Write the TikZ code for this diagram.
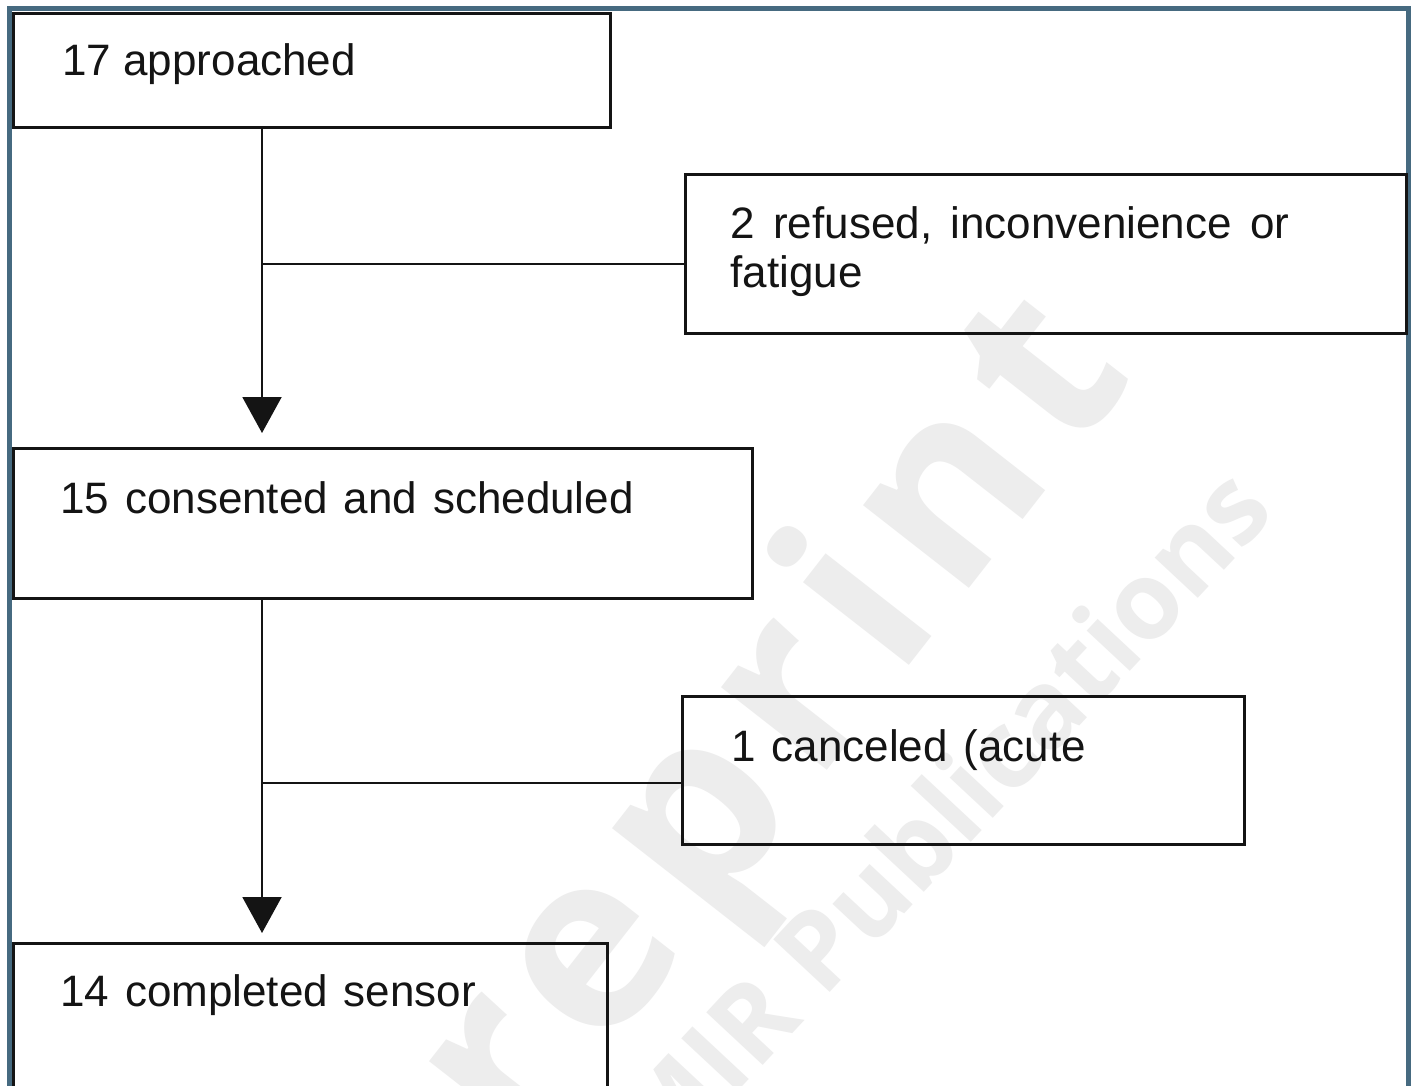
\documentclass[tikz,border=0pt]{standalone}
\usepackage{fontspec}
\setmainfont{Liberation Sans}
\newfontfamily\markfont{Open Sans}[LetterSpace=9]
\newfontfamily\marksmall{Open Sans}
\usetikzlibrary{arrows.meta}
\definecolor{frameteal}{HTML}{466A80}
\definecolor{markgray}{HTML}{EDEDED}
\definecolor{inkblack}{HTML}{141414}
% box label font with slightly wider word gaps
\newcommand\boxlabelfont{\fontsize{22}{24.5}\selectfont\spaceskip 7.9pt plus 1pt\relax}
\newcommand\widegaps{\spaceskip 9.2pt plus 1pt\relax}
\newcommand\plaingaps{\spaceskip 6.1pt plus 1pt\relax}
\tikzset{
  flowbox/.style={draw=inkblack, line width=1.5pt, rectangle, inner sep=0pt, anchor=north west},
  boxtext/.style={anchor=base west, inner sep=0pt, align=left, text=inkblack, font=\boxlabelfont},
  trunk/.style={draw=inkblack, line width=1pt},
  flow/.style={trunk, -{Triangle[width=19.5pt,length=18pt]}},
  stamp/.style={text=markgray, inner sep=0pt}
}
\begin{document}
\begin{tikzpicture}[x=0.5pt,y=-0.5pt]
\useasboundingbox (0,0) rectangle (1414,1086);
\fill[white] (0,0) rectangle (1414,1086);

% faint background stamp
\node[stamp, anchor=base west, rotate=52, font=\markfont\bfseries\fontsize{123}{123}\selectfont] (stamp1) at (414,1300) {preprint};
\node[stamp, anchor=base east, rotate=47, font=\marksmall\bfseries\fontsize{54}{54}\selectfont] (stamp2) at (1278,513) {JMIR Publications};

% frame (open at the bottom)
\draw[frameteal, line width=2.5pt] (9.5,1100) -- (9.5,9) -- (1408.5,9) -- (1408.5,1100);

% boxes
\node[flowbox, minimum width=298.5pt, minimum height=57pt] (approached) at (12,12) {};
\node[flowbox, minimum width=360.5pt, minimum height=79.5pt] (refused) at (684,173) {};
\node[flowbox, minimum width=369.5pt, minimum height=75pt] (consented) at (12,447) {};
\node[flowbox, minimum width=281pt, minimum height=74pt] (canceled) at (681,695) {};
\node[flowbox, minimum width=297pt, minimum height=120pt] (completed) at (12,942) {};

% box texts
\node[boxtext, font=\boxlabelfont\plaingaps] (t1) at (62,76) {17 approached};
\node[boxtext, font=\boxlabelfont\widegaps] (t2) at (730,287) {2 refused, inconvenience or\\fatigue};
\node[boxtext] (t3) at (60,513) {15 consented and scheduled};
\node[boxtext] (t4) at (731,761) {1 canceled (acute};
\node[boxtext] (t5) at (60,1006) {14 completed sensor};

% connectors
\coordinate (spine) at (262,0);
\coordinate (j1) at (262,264);
\coordinate (j2) at (262,783);
\draw[flow, shorten >=7pt] (approached.south -| spine) -- (consented.north -| spine);
\draw[trunk] (j1) -- (j1 -| refused.west);
\draw[flow, shorten >=4.5pt] (consented.south -| spine) -- (completed.north -| spine);
\draw[trunk] (j2) -- (j2 -| canceled.west);
\end{tikzpicture}
\end{document}
